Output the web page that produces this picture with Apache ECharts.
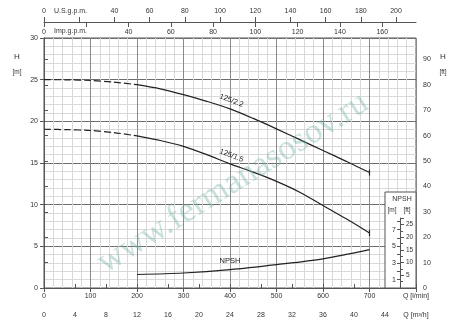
<!DOCTYPE html>
<html>
<head>
<meta charset="utf-8">
<script src="https://cdn.jsdelivr.net/npm/echarts@6/dist/echarts.min.js"></script>
<style>
html,body{margin:0;padding:0;background:#fff;}
#chart{width:450px;height:323px;}
</style>
</head>
<body>
<div id="chart"></div>
<script>
// ---- data ----
const qDash = [0, 50, 100, 150, 200];
const h22Dash = [25.0, 24.98, 24.9, 24.7, 24.4];
const h15Dash = [19.05, 19.0, 18.9, 18.65, 18.25];
const qSolid = [200, 250, 300, 350, 400, 450, 500, 550, 600, 650, 700];
const h22 = [24.4, 23.9, 23.2, 22.4, 21.5, 20.35, 19.1, 17.8, 16.5, 15.2, 13.85];
const h15 = [18.25, 17.7, 17.0, 16.0, 14.9, 13.9, 12.8, 11.5, 9.9, 8.3, 6.6];
const qNpsh = [200, 300, 400, 500, 600, 700];
const npsh = [1.62, 1.8, 2.2, 2.8, 3.5, 4.6];
const curveNames = ['125/2.2', '125/1.5', 'NPSH'];
const labelAtQ = 400;

const M_TO_FT = 3.28084;
const LPM_PER_USG = 3.785411784;
const LPM_PER_IMPG = 4.54609;
const QMAX = 800, HMAX = 30;

const FONT = 'Liberation Sans';
const TXT = '#333';

function pairs(xs, ys) { return xs.map((x, i) => [x, ys[i]]); }
function solidData(xs, ys, name, withEnd) {
  return xs.map((x, i) => {
    const item = { value: [x, ys[i]] };
    if (x === labelAtQ) {
      item.symbol = 'circle'; item.symbolSize = 1;
      item.itemStyle = { color: 'rgba(0,0,0,0)' };
      item.label = { show: true, formatter: name, position: 'top', distance: 4,
        rotate: name === 'NPSH' ? 0 : -21, fontSize: 7.5, color: '#222', fontFamily: FONT };
    }
    if (withEnd && i === xs.length - 1) {
      item.symbol = 'rect'; item.symbolSize = [1.2, 6];
      item.itemStyle = { color: '#222' };
    }
    return item;
  });
}

const chart = echarts.init(document.getElementById('chart'), null, { renderer: 'canvas' });

const lbl = (extra) => Object.assign({ fontSize: 7, color: TXT, fontFamily: FONT }, extra);
const lineStyleAxis = { color: '#555', width: 1 };

const solidSeries = (data) => ({
  type: 'line', xAxisIndex: 0, yAxisIndex: 0, data: data, smooth: 0.3,
  symbol: 'none', showSymbol: true, showAllSymbol: true,
  lineStyle: { color: '#222', width: 1.2 }, itemStyle: { color: '#222' }
});

chart.setOption({
  animation: false,
  backgroundColor: '#fff',
  grid: [
    { left: 44, top: 38, width: 372, height: 250, show: true, borderColor: '#555', borderWidth: 1, backgroundColor: 'transparent' },
    { left: 400, width: 1, top: 218, height: 70 }
  ],
  xAxis: [
    { // Q l/min
      type: 'value', gridIndex: 0, position: 'bottom', min: 0, max: QMAX, interval: 100,
      axisLine: { show: true, lineStyle: lineStyleAxis },
      axisTick: { show: true, length: 4, lineStyle: lineStyleAxis },
      minorTick: { show: false, splitNumber: 5 },
      splitLine: { show: true, lineStyle: { color: '#8a8a8a', width: 1 } },
      minorSplitLine: { show: true, lineStyle: { color: '#d9d9d9', width: 1 } },
      axisLabel: lbl({ margin: 5, showMaxLabel: true, showMinLabel: true,
        formatter: v => v === QMAX ? 'Q [l/min]' : String(v) })
    },
    { // m3/h
      type: 'value', gridIndex: 0, position: 'bottom', offset: 18, min: 0, max: QMAX * 60 / 1000, interval: 4,
      axisLine: { show: true, lineStyle: lineStyleAxis },
      axisTick: { show: true, inside: true, length: 4, lineStyle: lineStyleAxis },
      splitLine: { show: false },
      axisLabel: lbl({ margin: 6, showMaxLabel: true,
        formatter: v => v === 48 ? 'Q [m³/h]' : String(v) })
    },
    { // US gpm
      type: 'value', gridIndex: 0, position: 'top', offset: 16, min: 0, max: QMAX / LPM_PER_USG, interval: 20,
      axisLine: { show: true, lineStyle: lineStyleAxis },
      axisTick: { show: true, length: 5, lineStyle: lineStyleAxis },
      splitLine: { show: false },
      axisLabel: lbl({ margin: 7, showMaxLabel: false,
        formatter: v => (v === 20 || v % 20 !== 0) ? '' : String(v) })
    },
    { // Imp gpm
      type: 'value', gridIndex: 0, position: 'top', offset: 16, min: 0, max: QMAX / LPM_PER_IMPG, interval: 20,
      axisLine: { show: false },
      axisTick: { show: true, inside: true, length: 5, lineStyle: lineStyleAxis },
      splitLine: { show: false },
      axisLabel: lbl({ inside: true, margin: 7, showMaxLabel: false,
        formatter: v => (v === 20 || v % 20 !== 0) ? '' : String(v) })
    },
    { type: 'value', gridIndex: 1, show: false, min: 0, max: 1 }
  ],
  yAxis: [
    { // H m
      type: 'value', gridIndex: 0, position: 'left', min: 0, max: HMAX, interval: 5,
      axisLine: { show: true, lineStyle: lineStyleAxis },
      axisTick: { show: true, length: 4, lineStyle: lineStyleAxis },
      minorTick: { show: false, splitNumber: 5 },
      splitLine: { show: true, lineStyle: { color: '#6e6e6e', width: 1 } },
      minorSplitLine: { show: true, lineStyle: { color: '#d9d9d9', width: 1 } },
      axisLabel: lbl({ margin: 6 })
    },
    { // H ft
      type: 'value', gridIndex: 0, position: 'right', min: 0, max: HMAX * M_TO_FT, interval: 10,
      axisLine: { show: true, lineStyle: lineStyleAxis },
      axisTick: { show: true, length: 4, lineStyle: lineStyleAxis },
      splitLine: { show: false },
      axisLabel: lbl({ margin: 7, showMaxLabel: false, formatter: v => v % 10 === 0 ? String(v) : '' })
    },
    { // inset NPSH m
      type: 'value', gridIndex: 1, position: 'left', min: 0, max: 8.4, interval: 1, z: 10,
      axisLine: { show: true, lineStyle: lineStyleAxis },
      axisTick: { show: true, length: 3, lineStyle: lineStyleAxis },
      splitLine: { show: false },
      axisLabel: lbl({ margin: 4, showMaxLabel: false, formatter: v => (v % 2 === 1) ? String(v) : '' })
    },
    { // inset NPSH ft
      type: 'value', gridIndex: 1, position: 'right', min: 0, max: 8.4 * M_TO_FT, interval: 5, z: 10,
      axisLine: { show: false },
      axisTick: { show: true, length: 3, lineStyle: lineStyleAxis },
      minorTick: { show: true, splitNumber: 2, length: 2, lineStyle: lineStyleAxis },
      splitLine: { show: false },
      axisLabel: lbl({ margin: 5, fontSize: 6.5, showMaxLabel: false, formatter: v => (v > 0 && v % 5 === 0) ? String(v) : '' })
    }
  ],
  graphic: [
    { type: 'rect', z: 5, shape: { x: 385, y: 192, width: 31, height: 96 },
      style: { fill: '#fff', stroke: '#555', lineWidth: 1 } },
    { type: 'text', z: 6, x: 402, y: 199, style: { text: 'NPSH', font: '7px "Liberation Sans"', fill: TXT, textAlign: 'center', textVerticalAlign: 'middle' } },
    { type: 'text', z: 6, x: 392, y: 210, style: { text: '[m]', font: '6.5px "Liberation Sans"', fill: TXT, textAlign: 'center', textVerticalAlign: 'middle' } },
    { type: 'text', z: 6, x: 407, y: 210, style: { text: '[ft]', font: '6.5px "Liberation Sans"', fill: TXT, textAlign: 'center', textVerticalAlign: 'middle' } },
    { type: 'text', z: 6, x: 17, y: 57, style: { text: 'H', font: '8px "Liberation Sans"', fill: TXT, textAlign: 'center', textVerticalAlign: 'middle' } },
    { type: 'text', z: 6, x: 17, y: 72, style: { text: '[m]', font: '6.5px "Liberation Sans"', fill: TXT, textAlign: 'center', textVerticalAlign: 'middle' } },
    { type: 'text', z: 6, x: 443, y: 57, style: { text: 'H', font: '8px "Liberation Sans"', fill: TXT, textAlign: 'center', textVerticalAlign: 'middle' } },
    { type: 'text', z: 6, x: 443, y: 72, style: { text: '[ft]', font: '6.5px "Liberation Sans"', fill: TXT, textAlign: 'center', textVerticalAlign: 'middle' } },
    { type: 'text', z: 6, x: 54, y: 11, style: { text: 'U.S.g.p.m.', font: '7px "Liberation Sans"', fill: TXT, textAlign: 'left', textVerticalAlign: 'middle' } },
    { type: 'text', z: 6, x: 54, y: 31, style: { text: 'Imp.g.p.m.', font: '7px "Liberation Sans"', fill: TXT, textAlign: 'left', textVerticalAlign: 'middle' } },
    { type: 'text', z: 20, x: 233, y: 183, rotation: 32 * Math.PI / 180, silent: true,
      style: { text: 'www.fermanasosov.ru', font: '35px "Liberation Serif"', fill: 'rgba(110,175,162,0.38)', textAlign: 'center', textVerticalAlign: 'middle' } }
  ],
  series: [
    { type: 'line', xAxisIndex: 0, yAxisIndex: 0, data: pairs(qDash, h22Dash), smooth: 0.3, symbol: 'none',
      lineStyle: { color: '#222', width: 1.2, type: [7, 3] } },
    { type: 'line', xAxisIndex: 0, yAxisIndex: 0, data: pairs(qDash, h15Dash), smooth: 0.3, symbol: 'none',
      lineStyle: { color: '#222', width: 1.2, type: [7, 3] } },
    solidSeries(solidData(qSolid, h22, curveNames[0], true)),
    solidSeries(solidData(qSolid, h15, curveNames[1], true)),
    solidSeries(solidData(qNpsh, npsh, curveNames[2], false))
  ]
});
</script>
</body>
</html>
